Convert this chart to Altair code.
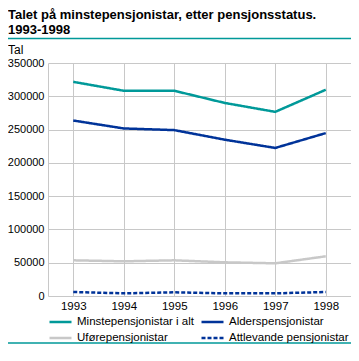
import altair as alt
import pandas as pd

years = ["1993", "1994", "1995", "1996", "1997", "1998"]
series_names = ["Minstepensjonistar i alt", "Alderspensjonistar",
                "Uførepensjonistar", "Attlevande pensjonistar"]
minste = [321700, 308300, 308300, 290000, 276600, 309800]
alders = [263600, 251700, 249200, 234800, 222400, 244700]
ufore = [53600, 52100, 53600, 50600, 49100, 59600]
attlev = [6000, 4000, 5500, 4000, 4000, 6000]
y_ticks = [0, 50000, 100000, 150000, 200000, 250000, 300000, 350000]
title_lines = ["Talet på minstepensjonistar, etter pensjonsstatus.", "1993-1998"]
y_title = "Tal"

colors = ["#009999", "#003399", "#c8c8c8", "#003399"]
dashes = [[1, 0], [1, 0], [1, 0], [4, 2]]

rows = []
for name, vals in zip(series_names, [minste, alders, ufore, attlev]):
    for yr, v in zip(years, vals):
        rows.append({"year": yr, "serie": name, "value": v})
df = pd.DataFrame(rows)

FONT = "Liberation Sans"
GRID = "#c8c8c8"

legend_kw = dict(
    title=None, orient="none", legendX=0, legendY=251, direction="horizontal",
    columns=2, columnPadding=6, rowPadding=0, clipHeight=16, symbolType="stroke",
    symbolSize=484, symbolStrokeWidth=2.5, labelFontSize=11.5, labelFont=FONT,
    labelOffset=4, labelLimit=220, labelColor="#000000", padding=0,
)

lines = alt.Chart(df).mark_line(strokeWidth=2.5).encode(
    x=alt.X("year:O", scale=alt.Scale(type="point", padding=0.5),
            axis=alt.Axis(title=None, labelAngle=0, grid=True, gridColor=GRID,
                          domain=False, ticks=False, labelPadding=4,
                          labelFontSize=11.5, labelFont=FONT, labelColor="#000000")),
    y=alt.Y("value:Q", scale=alt.Scale(domain=[0, 350000], nice=False),
            axis=alt.Axis(title=None, values=y_ticks, format="d", grid=True,
                          gridColor=GRID, domainColor=GRID, ticks=False,
                          labelPadding=4, labelFontSize=11, labelFont=FONT,
                          labelColor="#000000")),
    color=alt.Color("serie:N", scale=alt.Scale(domain=series_names, range=colors),
                    legend=alt.Legend(**legend_kw)),
    strokeDash=alt.StrokeDash("serie:N", scale=alt.Scale(domain=series_names, range=dashes),
                              legend=alt.Legend(**legend_kw)),
)

title1 = alt.Chart(pd.DataFrame({"t": [title_lines[0]]})).mark_text(
    align="left", baseline="alphabetic", font=FONT, fontSize=13, fontWeight="bold",
    color="#000000").encode(text="t:N", x=alt.value(-40), y=alt.value(-44))
title2 = alt.Chart(pd.DataFrame({"t": [title_lines[1]]})).mark_text(
    align="left", baseline="alphabetic", font=FONT, fontSize=13, fontWeight="bold",
    color="#000000").encode(text="t:N", x=alt.value(-40), y=alt.value(-29.5))
ytitle = alt.Chart(pd.DataFrame({"t": [y_title]})).mark_text(
    align="left", baseline="alphabetic", font=FONT, fontSize=12,
    color="#000000").encode(text="t:N", x=alt.value(-40), y=alt.value(-9))

sep_top = alt.Chart(pd.DataFrame({"a": [0]})).mark_rule(color="#009999", strokeWidth=1.5).encode(
    x=alt.value(-40), x2=alt.value(303), y=alt.value(-24.5))
sep_bot = alt.Chart(pd.DataFrame({"a": [0]})).mark_rule(color="#009999", strokeWidth=1.5).encode(
    x=alt.value(-40), x2=alt.value(303), y=alt.value(280))

chart = alt.layer(lines, title1, title2, ytitle, sep_top, sep_bot).properties(
    width=303, height=233,
    padding={"left": 40, "top": 55, "right": 0, "bottom": 48},
    autosize=alt.AutoSizeParams(type="none"),
).configure_view(stroke=None)

chart.save("out.html", embed_options={"renderer": "svg", "actions": False})
